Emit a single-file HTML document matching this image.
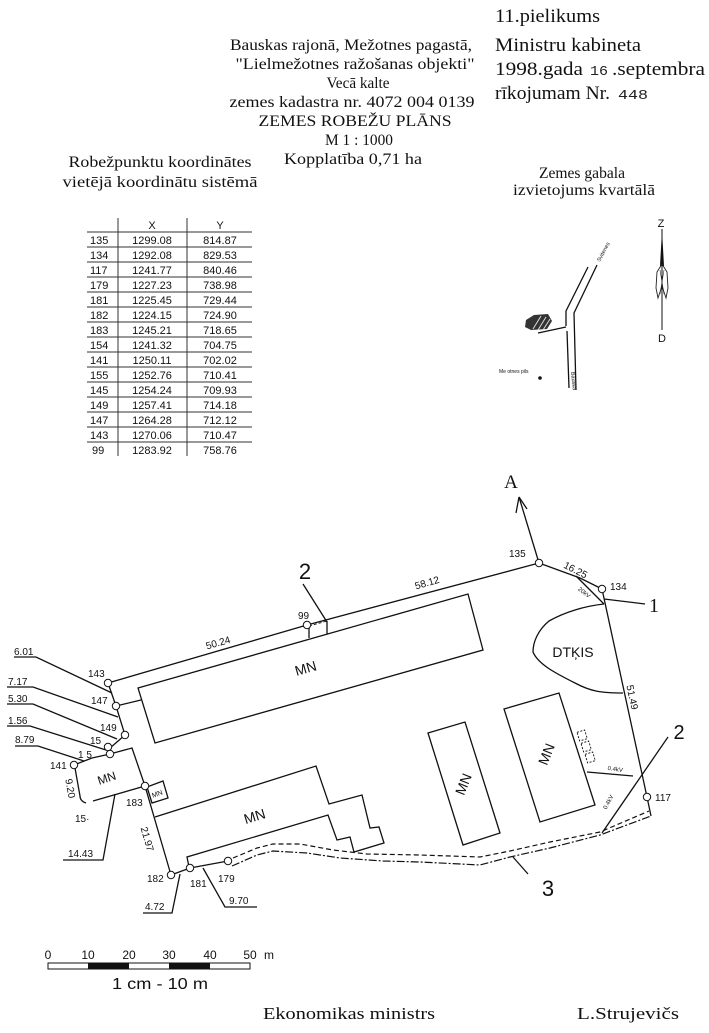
<!DOCTYPE html>
<html><head><meta charset="utf-8"><style>
html,body{margin:0;padding:0;background:#fff;}
svg{display:block;}
.sf{font-family:"Liberation Serif",serif;fill:#111;}
.ss{font-family:"Liberation Sans",sans-serif;fill:#111;}
.ln{stroke:#111;stroke-width:1.3;fill:none;}
.tl{stroke:#333;stroke-width:1;fill:none;}
.pt{stroke:#111;stroke-width:1;fill:#fff;}
</style></head><body>
<svg width="709" height="1033" viewBox="0 0 709 1033" xmlns="http://www.w3.org/2000/svg">
<rect width="709" height="1033" fill="#fff"/>

<!-- Header right -->
<text class="sf" x="495" y="22" font-size="19" textLength="105" lengthAdjust="spacingAndGlyphs">11.pielikums</text>
<text class="sf" x="495" y="51" font-size="19" textLength="146" lengthAdjust="spacingAndGlyphs">Ministru kabineta</text>
<text class="sf" x="495" y="75" font-size="19" textLength="88" lengthAdjust="spacingAndGlyphs">1998.gada</text>
<text x="590" y="75" font-size="14" font-family="Liberation Mono, monospace" fill="#222" textLength="18" lengthAdjust="spacingAndGlyphs">16</text>
<text class="sf" x="612" y="75" font-size="19" textLength="93" lengthAdjust="spacingAndGlyphs">.septembra</text>
<text class="sf" x="495" y="99" font-size="19" textLength="115" lengthAdjust="spacingAndGlyphs">rīkojumam Nr.</text>
<text x="618" y="99" font-size="14" font-family="Liberation Mono, monospace" fill="#222" textLength="30" lengthAdjust="spacingAndGlyphs">448</text>

<!-- Header center -->
<g class="sf" font-size="16" text-anchor="middle">
<text x="351" y="50" textLength="242" lengthAdjust="spacingAndGlyphs">Bauskas rajonā, Mežotnes pagastā,</text>
<text x="355" y="69" textLength="239" lengthAdjust="spacingAndGlyphs">"Lielmežotnes ražošanas objekti"</text>
<text x="358" y="88" textLength="63" lengthAdjust="spacingAndGlyphs">Vecā kalte</text>
<text x="352" y="107" textLength="245" lengthAdjust="spacingAndGlyphs">zemes kadastra nr. 4072 004 0139</text>
<text x="355" y="126" textLength="193" lengthAdjust="spacingAndGlyphs">ZEMES ROBEŽU PLĀNS</text>
<text x="359" y="145" textLength="68" lengthAdjust="spacingAndGlyphs">M 1 : 1000</text>
<text x="353" y="164" textLength="138" lengthAdjust="spacingAndGlyphs">Kopplatība 0,71 ha</text>
<text x="160" y="167" textLength="183" lengthAdjust="spacingAndGlyphs">Robežpunktu koordinātes</text>
<text x="160" y="187" textLength="195" lengthAdjust="spacingAndGlyphs">vietējā  koordinātu sistēmā</text>
<text x="582" y="178" textLength="86" lengthAdjust="spacingAndGlyphs">Zemes gabala</text>
<text x="584" y="195" textLength="142" lengthAdjust="spacingAndGlyphs">izvietojums kvartālā</text>
</g>

<!-- Table -->
<g class="tl">
<line x1="118" y1="218" x2="118" y2="456"/>
<line x1="187" y1="218" x2="187" y2="456"/>
<line x1="87" y1="232" x2="252" y2="232"/>
<line x1="87" y1="247" x2="252" y2="247"/>
<line x1="87" y1="262" x2="252" y2="262"/>
<line x1="87" y1="277" x2="252" y2="277"/>
<line x1="87" y1="292" x2="252" y2="292"/>
<line x1="87" y1="307" x2="252" y2="307"/>
<line x1="87" y1="322" x2="252" y2="322"/>
<line x1="87" y1="337" x2="252" y2="337"/>
<line x1="87" y1="352" x2="252" y2="352"/>
<line x1="87" y1="367" x2="252" y2="367"/>
<line x1="87" y1="382" x2="252" y2="382"/>
<line x1="87" y1="397" x2="252" y2="397"/>
<line x1="87" y1="412" x2="252" y2="412"/>
<line x1="87" y1="427" x2="252" y2="427"/>
<line x1="87" y1="442" x2="252" y2="442"/>
</g>
<g class="ss" font-size="11">
<text x="152" y="229" text-anchor="middle">X</text>
<text x="220" y="229" text-anchor="middle">Y</text>
<g>
<text x="90" y="244">135</text><text x="90" y="259">134</text><text x="90" y="274">117</text><text x="90" y="289">179</text><text x="90" y="304">181</text><text x="90" y="319">182</text><text x="90" y="334">183</text><text x="90" y="349">154</text><text x="90" y="364">141</text><text x="90" y="379">155</text><text x="90" y="394">145</text><text x="90" y="409">149</text><text x="90" y="424">147</text><text x="90" y="439">143</text><text x="92" y="454">99</text>
</g>
<g text-anchor="middle">
<text x="152" y="244">1299.08</text><text x="152" y="259">1292.08</text><text x="152" y="274">1241.77</text><text x="152" y="289">1227.23</text><text x="152" y="304">1225.45</text><text x="152" y="319">1224.15</text><text x="152" y="334">1245.21</text><text x="152" y="349">1241.32</text><text x="152" y="364">1250.11</text><text x="152" y="379">1252.76</text><text x="152" y="394">1254.24</text><text x="152" y="409">1257.41</text><text x="152" y="424">1264.28</text><text x="152" y="439">1270.06</text><text x="152" y="454">1283.92</text>
<text x="220" y="244">814.87</text><text x="220" y="259">829.53</text><text x="220" y="274">840.46</text><text x="220" y="289">738.98</text><text x="220" y="304">729.44</text><text x="220" y="319">724.90</text><text x="220" y="334">718.65</text><text x="220" y="349">704.75</text><text x="220" y="364">702.02</text><text x="220" y="379">710.41</text><text x="220" y="394">709.93</text><text x="220" y="409">714.18</text><text x="220" y="424">712.12</text><text x="220" y="439">710.47</text><text x="220" y="454">758.76</text>
</g>
</g>

<!-- Location map -->
<g class="ln" stroke-width="1.1">
<polyline points="588,267 566,311 566,326"/>
<line x1="538" y1="333" x2="566" y2="327"/>
<line x1="567" y1="331" x2="569" y2="388"/>
<polyline points="597,265 574,313 576,390"/>
</g>
<polygon points="526,320 534,315 548,314 552,321 547,329 531,330 525,327" fill="#333"/>
<g stroke="#ddd" stroke-width="1">
<line x1="533" y1="329" x2="541" y2="316"/>
<line x1="538" y1="330" x2="546" y2="317"/>
<line x1="543" y1="330" x2="550" y2="319"/>
</g>
<text class="ss" font-size="5.5" transform="translate(600,262) rotate(-62)">Svitenes</text>
<text class="ss" font-size="5.5" transform="translate(571,372) rotate(84)">Bauska</text>
<text class="ss" font-size="5" x="499" y="373">Me otnes pils</text>
<circle cx="540" cy="378" r="1.8" fill="#111"/>
<text class="ss" font-size="11" x="661" y="227" text-anchor="middle">Z</text>
<line x1="662" y1="229" x2="662" y2="330" stroke="#111" stroke-width="1"/>
<polygon points="662,230 664,266 660,266" fill="#111"/>
<path d="M662 264 L667 272 L668 288 L666 298 L662 286 L658 298 L656 288 L657 272 Z" fill="none" stroke="#222" stroke-width="0.9"/>
<line x1="660" y1="270" x2="664" y2="294" stroke="#222" stroke-width="0.6"/>
<line x1="664" y1="270" x2="660" y2="294" stroke="#222" stroke-width="0.6"/>
<text class="ss" font-size="11" x="662" y="342" text-anchor="middle">D</text>

<!-- Main plan: boundary -->
<g class="ln">
<polyline points="539,563 580,578 602,589"/>
<polyline points="602,589 647,797 651,816"/>
<line x1="539" y1="563" x2="307" y2="625"/>
<line x1="307" y1="625" x2="108" y2="683"/>
<polyline points="108,683 116,706 125,735 110,748"/>
<polyline points="74,765 92,758 110,754 132,748 145,786 171,875"/>
<line x1="171" y1="875" x2="190" y2="868"/>
<line x1="190" y1="868" x2="228" y2="861"/>
<line x1="145" y1="786" x2="93" y2="801"/>
<path d="M86 803 Q80 801 80 796 L75 768"/>
<!-- arrow A -->
<line x1="539" y1="563" x2="519" y2="497"/>
<path d="M519 497 L516 513 M519 497 L527 509"/>
<!-- 20kV line and leader 1 -->
<line x1="576" y1="576" x2="604" y2="604"/>
<line x1="604" y1="599" x2="645" y2="604"/>
<!-- DTKIS -->
<path d="M604 604 C585 606 565 612 549 621 C538 630 533 642 533 652 C538 664 555 673 575 683 C590 691 600 693 623 693"/>
<!-- long building -->
<polygon points="138,688 468,594 483,650 155,743"/>
<line x1="116" y1="706" x2="141" y2="700"/>
<!-- small box near 99 -->
<line x1="309" y1="626" x2="309" y2="638"/>
<line x1="327" y1="621" x2="327" y2="634"/>
<line x1="303" y1="584" x2="327" y2="622"/>
<!-- small MN box -->
<polygon points="147,787 163,781 168,798 152,803"/>
<!-- lower stepped building -->
<polyline points="155,817 316,766 329,804 362,795 370,828 379,827 384,843 354,852 350,837 337,840 328,815 187,857 189,867"/>
<!-- middle MN -->
<polygon points="428,733 465,722 500,833 463,845"/>
<!-- right MN -->
<polygon points="504,709 559,693 595,805 540,822"/>
<!-- 0.4kV lines and leader 2 -->
<line x1="587" y1="772" x2="633" y2="776"/>
<line x1="668" y1="737" x2="602" y2="833"/>
<!-- leader 3 -->
<line x1="513" y1="857" x2="528" y2="874"/>
<!-- leaders left -->
<polyline points="14,657 36,657 112,693"/>
<polyline points="7,687 33,687 118,717"/>
<polyline points="7,704 33,704 117,739"/>
<polyline points="7,726 30,726 106,750"/>
<polyline points="15,746 38,746 84,761"/>
<polyline points="63,860 103,860 115,794"/>
<polyline points="143,913 172,913 180,874"/>
<polyline points="257,907 225,907 203,868"/>
</g>
<!-- transformer boxes -->
<g fill="none" stroke="#111" stroke-width="0.9" stroke-dasharray="2,1.5">
<rect x="578" y="731" width="8" height="9" transform="rotate(-17 582 735)"/>
<rect x="582" y="742" width="8" height="9" transform="rotate(-17 586 746)"/>
<rect x="586" y="753" width="8" height="9" transform="rotate(-17 590 757)"/>
<polyline points="309,626 327,621" stroke-dasharray="3,2"/>
</g>
<!-- road lines -->
<polyline points="233,858 257,848 273,844 300,844 333,850 367,854 420,855 480,857 510,851 550,842 600,832 649,811" fill="none" stroke="#111" stroke-width="1.2" stroke-dasharray="5,3"/>
<polyline points="232,866 257,855 273,851 307,853 340,858 383,861 420,862 480,865 510,857 550,848 600,835 651,816" fill="none" stroke="#111" stroke-width="1.2" stroke-dasharray="8,2,2,2"/>

<!-- points -->
<g class="pt">
<circle cx="539" cy="563" r="3.7"/>
<circle cx="602" cy="589" r="3.7"/>
<circle cx="647" cy="797" r="3.7"/>
<circle cx="307" cy="625" r="3.7"/>
<circle cx="108" cy="683" r="3.7"/>
<circle cx="116" cy="706" r="3.7"/>
<circle cx="125" cy="735" r="3.7"/>
<circle cx="108" cy="747" r="3.7"/>
<circle cx="110" cy="754" r="3.7"/>
<circle cx="74" cy="765" r="3.7"/>
<circle cx="145" cy="786" r="3.7"/>
<circle cx="171" cy="875" r="3.7"/>
<circle cx="190" cy="868" r="3.7"/>
<circle cx="228" cy="861" r="3.7"/>
</g>

<!-- plan labels -->
<g class="ss" font-size="10">
<text x="509" y="557">135</text>
<text x="610" y="590">134</text>
<text x="655" y="801">117</text>
<text x="298" y="619">99</text>
<text x="88" y="677">143</text>
<text x="91" y="704">147</text>
<text x="100" y="731">149</text>
<text x="90" y="744">15</text>
<text x="78" y="758">1 5</text>
<text x="50" y="769">141</text>
<text x="75" y="822">15·</text>
<text x="126" y="806">183</text>
<text x="147" y="882">182</text>
<text x="190" y="887">181</text>
<text x="218" y="882">179</text>
<text x="14" y="655">6.01</text>
<text x="8" y="685">7.17</text>
<text x="8" y="702">5.30</text>
<text x="8" y="724">1.56</text>
<text x="15" y="743">8.79</text>
<text x="68" y="857">14.43</text>
<text x="145" y="910">4.72</text>
<text x="229" y="904">9.70</text>
<text text-anchor="middle" transform="translate(219,646) rotate(-16)">50.24</text>
<text text-anchor="middle" transform="translate(428,586) rotate(-16)">58.12</text>
<text text-anchor="middle" transform="translate(574,573) rotate(27)">16.25</text>
<text text-anchor="middle" transform="translate(629,698) rotate(78)">51.49</text>
<text text-anchor="middle" transform="translate(144,840) rotate(74)">21.97</text>
<text text-anchor="middle" transform="translate(67,789) rotate(80)">9.20</text>
</g>
<g class="ss" font-size="6">
<text text-anchor="middle" transform="translate(583,594) rotate(38)">20kV</text>
<text text-anchor="middle" transform="translate(615,771) rotate(8)">0.4kV</text>
<text text-anchor="middle" transform="translate(610,803) rotate(-62)">0.4kV</text>
</g>
<g class="ss" font-size="14" text-anchor="middle">
<text transform="translate(307,673) rotate(-16)">MN</text>
<text transform="translate(108,782) rotate(-18)" font-size="12">MN</text>
<text transform="translate(158,796) rotate(-20)" font-size="7">MN</text>
<text transform="translate(256,821) rotate(-17)">MN</text>
<text transform="translate(468,786) rotate(-68)">MN</text>
<text transform="translate(551,756) rotate(-68)">MN</text>
<text x="573" y="657">DTĶIS</text>
</g>
<text class="ss" font-size="22" x="305" y="579" text-anchor="middle">2</text>
<text class="ss" font-size="20" x="679" y="739" text-anchor="middle">2</text>
<text class="ss" font-size="22" x="548" y="896" text-anchor="middle">3</text>
<text class="sf" font-size="20" x="654" y="612" text-anchor="middle">1</text>
<text class="sf" font-size="19" x="511" y="488" text-anchor="middle">A</text>

<!-- scale bar -->
<g class="ss" font-size="12" text-anchor="middle">
<text x="48" y="959">0</text>
<text x="88" y="959">10</text>
<text x="129" y="959">20</text>
<text x="169" y="959">30</text>
<text x="210" y="959">40</text>
<text x="250" y="959">50</text>
<text x="269" y="959">m</text>
</g>
<rect x="48" y="963" width="202" height="6" fill="#fff" stroke="#111" stroke-width="1"/>
<rect x="88" y="962.5" width="41" height="7" fill="#111"/>
<rect x="169" y="962.5" width="41" height="7" fill="#111"/>
<text class="ss" font-size="16" x="160" y="989" text-anchor="middle" textLength="96" lengthAdjust="spacingAndGlyphs">1 cm - 10 m</text>

<!-- footer -->
<text class="sf" font-size="17" x="263" y="1019" textLength="172" lengthAdjust="spacingAndGlyphs">Ekonomikas ministrs</text>
<text class="sf" font-size="17" x="577" y="1019" textLength="102" lengthAdjust="spacingAndGlyphs">L.Strujevičs</text>
</svg>
</body></html>
